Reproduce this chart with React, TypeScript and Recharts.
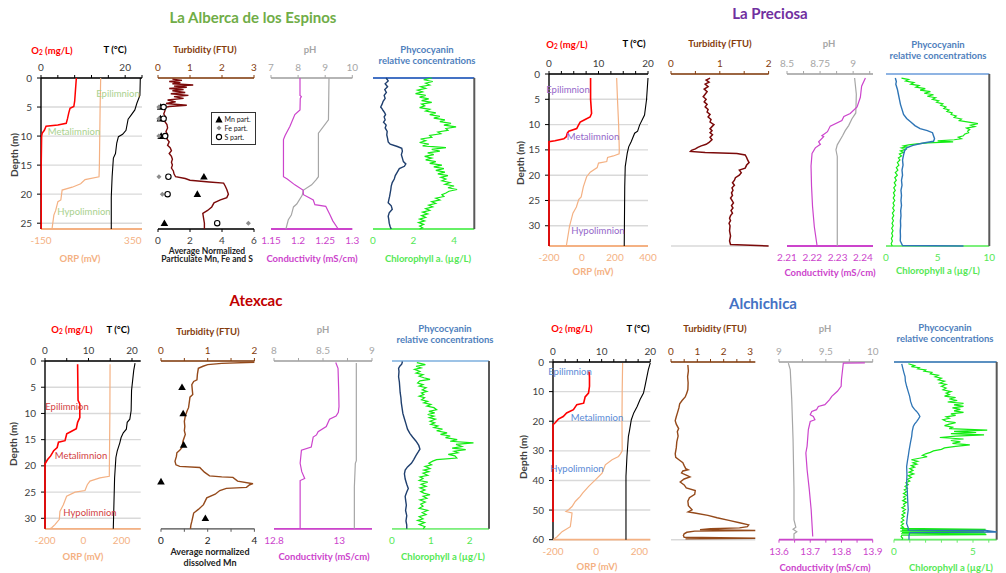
import React from 'react';
import { ScatterChart, Scatter, XAxis, YAxis, CartesianGrid, Legend } from 'recharts';

const FONT = 'Lato, "Open Sans", "DejaVu Sans", sans-serif';

type Pt = [number, number];

// ---------- La Alberca de los Espinos ----------
const albO2: Pt[] = [[0, 8.4], [2, 8.2], [4, 8.0], [4.9, 7.8], [5.2, 6.9], [6, 6.6], [7, 6.3], [7.8, 6.0], [8.1, 4.0], [8.3, 1.2], [9, 0.8], [9.5, 0.3], [10, 0.15], [15, 0.05], [26, 0.05]];
const albT: Pt[] = [[0, 23.6], [3, 23.5], [4.3, 22.8], [5.5, 22.3], [6.3, 21.5], [7.1, 20.7], [9, 20.2], [9.7, 19.4], [10.1, 18.4], [11.2, 18.0], [13, 17.7], [13.8, 17.2], [17, 16.9], [20.5, 16.7], [26, 16.7]];
const albORP: Pt[] = [[0, 175], [5, 172], [10, 170], [15, 168], [17, 166], [17.5, 90], [18.2, 66], [18.8, 20], [19.3, -35], [21, -42], [21.3, -58], [22.8, -70], [23.6, -80], [26, -90]];
const albTurb: Pt[] = [[0.2, 0.45], [0.4, 0.75], [0.6, 0.35], [0.8, 0.7], [1.0, 0.45], [1.2, 1.1], [1.4, 0.5], [1.6, 0.9], [1.8, 0.35], [2.0, 0.8], [2.2, 0.45], [2.5, 0.85], [2.7, 0.4], [3.0, 0.95], [3.2, 0.5], [3.5, 0.8], [3.8, 0.3], [4.1, 0.55], [4.4, 0.25], [4.7, 0.9], [4.9, 0.35], [5.1, 0.2], [5.6, 0.22], [6.2, 0.18], [6.8, 0.25], [7.4, 0.2], [8.0, 0.28], [8.6, 0.3], [9.2, 0.25], [9.8, 0.3], [10.5, 0.28], [11, 0.35], [11.6, 0.3], [12, 0.38], [12.5, 0.42], [13, 0.35], [13.5, 0.42], [14, 0.45], [14.5, 0.42], [15, 0.45], [15.5, 0.42], [16, 0.48], [16.5, 0.5], [17, 0.55], [17.3, 0.85], [17.6, 1.0], [17.9, 1.6], [18.1, 2.05], [18.6, 2.1], [19.2, 2.15], [20, 2.2], [20.6, 2.15], [21, 1.95], [21.5, 1.75], [22.2, 1.68], [22.8, 1.55], [23.3, 1.4], [24, 1.42], [25, 1.45], [26, 1.45]];
const albMn: Pt[] = [[5, 0.17], [7, 0.15], [10, 0.2], [17, 2.87], [20, 2.46], [25, 0.4]];
const albFe: Pt[] = [[5, 0.05], [7, 0.05], [10, 0.05], [17, 0.06], [20, 0.27], [25, 5.65]];
const albS: Pt[] = [[5, 0.35], [7, 0.35], [10, 0.45], [17, 0.65], [20, 0.6], [25, 3.7]];
const albPH: Pt[] = [[0, 9.14], [7.2, 9.12], [9.5, 8.75], [17, 8.75], [17.5, 8.67], [18.4, 8.5], [19.3, 8.2], [20.2, 8.15], [21.7, 7.95], [22.2, 7.83], [23.6, 7.75], [24.4, 7.64], [26, 7.55]];
const albCond: Pt[] = [[0, 1.2035], [3, 1.2035], [3.2, 1.206], [3.5, 1.204], [5.5, 1.2035], [6.3, 1.194], [8.3, 1.185], [9.9, 1.176], [10.6, 1.173], [17, 1.173], [17.4, 1.18], [18.4, 1.194], [19.3, 1.209], [20.1, 1.21], [21, 1.228], [21.8, 1.231], [22.1, 1.251], [23.6, 1.259], [24.6, 1.264], [26, 1.274]];
const albChl: Pt[] = [[0, 2.9], [0.3, 2.5], [0.6, 2.95], [0.9, 2.6], [1.2, 2.8], [1.5, 2.35], [1.8, 2.6], [2.1, 2.2], [2.4, 2.45], [2.7, 2.1], [3.0, 2.6], [3.3, 2.3], [3.6, 2.75], [3.9, 2.4], [4.2, 2.9], [4.5, 2.4], [4.8, 2.55], [5.1, 2.3], [5.4, 2.8], [5.7, 2.6], [6.0, 3.1], [6.3, 2.8], [6.6, 3.3], [6.9, 3.0], [7.2, 3.55], [7.5, 3.3], [7.8, 3.85], [8.1, 3.5], [8.4, 4.1], [8.7, 3.6], [9.0, 3.7], [9.3, 3.2], [9.6, 3.35], [9.9, 2.8], [10.2, 2.9], [10.5, 2.35], [10.8, 2.6], [11.1, 2.3], [11.4, 2.75], [11.7, 2.45], [12.0, 3.6], [12.3, 2.9], [12.6, 3.3], [12.9, 2.7], [13.2, 3.0], [13.5, 2.55], [13.8, 2.9], [14.1, 2.6], [14.4, 3.1], [14.7, 2.8], [15.0, 3.4], [15.3, 3.0], [15.6, 3.5], [15.9, 3.1], [16.2, 3.55], [16.5, 3.2], [16.8, 3.7], [17.1, 3.35], [17.4, 3.6], [17.7, 3.4], [18.0, 3.8], [18.3, 3.55], [18.6, 4.0], [18.9, 3.7], [19.2, 4.15], [19.5, 3.75], [19.8, 3.6], [20.1, 3.4], [20.4, 3.5], [20.7, 3.1], [21.0, 3.3], [21.3, 2.9], [21.6, 3.1], [21.9, 2.75], [22.2, 2.95], [22.5, 2.6], [22.8, 2.8], [23.1, 2.45], [23.4, 2.7], [23.7, 2.4], [24.0, 2.6], [24.3, 2.3], [24.6, 2.55], [24.9, 2.25], [25.2, 2.5], [25.5, 2.3], [25.8, 2.45], [26, 2.3]];
const albPhy: Pt[] = [[0, 0.65], [0.5, 0.75], [1, 0.6], [1.5, 0.72], [2, 0.58], [2.5, 0.66], [3, 0.55], [3.5, 0.6], [4, 0.5], [4.5, 0.45], [5, 0.38], [5.3, 0.45], [5.6, 0.5], [6, 0.58], [6.3, 0.62], [6.7, 0.55], [7.2, 0.6], [7.6, 0.52], [8.1, 0.65], [8.6, 0.6], [9.2, 0.7], [9.8, 0.68], [10.4, 0.72], [11, 0.75], [11.4, 0.85], [11.8, 1.2], [12.1, 1.42], [12.6, 1.45], [13.2, 1.4], [13.8, 1.45], [14.4, 1.5], [14.8, 1.62], [15.2, 1.55], [15.6, 1.3], [16.2, 1.2], [16.8, 1.1], [17.4, 1.05], [18, 0.95], [18.6, 0.9], [19.2, 0.88], [19.8, 0.85], [20.4, 0.82], [21, 0.78], [21.5, 0.75], [22, 0.9], [22.6, 0.95], [23.2, 0.8], [23.8, 0.75], [24.4, 0.78], [25, 0.8], [25.6, 0.85], [26, 0.9]];

// ---------- La Preciosa ----------
const preO2: Pt[] = [[0.8, 8.4], [5, 8.4], [7.8, 8.6], [8.5, 8.3], [9.0, 7.3], [9.5, 6.3], [10.2, 5.9], [10.8, 5.6], [11.3, 4.0], [11.7, 3.7], [12.4, 3.5], [12.8, 3.0], [13.2, 1.2], [13.4, 0], [34, 0]];
const preT: Pt[] = [[0.8, 20], [5.1, 19.7], [8.1, 19.3], [10.1, 18.3], [11.3, 17.9], [11.7, 17.3], [13.4, 16.6], [14.4, 16.1], [15.7, 15.8], [18.3, 15.4], [22.3, 15.3], [34, 15.2]];
const preORP: Pt[] = [[0.8, 210], [5, 215], [10, 222], [15, 226], [15.8, 225], [16.2, 190], [16.5, 155], [17.3, 150], [17.6, 100], [18.5, 92], [19.4, 50], [20.3, 28], [22.3, 8], [24.3, -5], [24.8, -20], [26.3, -34], [27.5, -55], [30, -75], [34, -95]];
const preTurb: Pt[] = [[0.8, 0.8], [1.2, 0.72], [1.6, 0.78], [2, 0.7], [2.5, 0.76], [3, 0.68], [3.5, 0.74], [4, 0.7], [4.5, 0.66], [5, 0.72], [5.5, 0.68], [6, 0.74], [6.5, 0.7], [7, 0.76], [7.5, 0.74], [8, 0.8], [8.5, 0.76], [9, 0.82], [9.5, 0.8], [10, 0.88], [10.4, 0.84], [10.8, 0.8], [11.2, 0.84], [11.6, 0.8], [12, 0.85], [12.5, 0.8], [13, 0.84], [13.5, 0.78], [13.9, 0.72], [14.2, 0.62], [14.5, 0.55], [14.8, 0.5], [15.1, 0.42], [15.3, 0.4], [15.5, 0.7], [15.7, 1.35], [16, 1.52], [16.5, 1.55], [17, 1.57], [17.5, 1.6], [18, 1.55], [18.6, 1.52], [19, 1.4], [19.5, 1.44], [20, 1.4], [20.5, 1.32], [21, 1.3], [21.5, 1.26], [22, 1.3], [22.5, 1.25], [23, 1.27], [23.5, 1.24], [24, 1.26], [24.5, 1.22], [25, 1.25], [25.5, 1.28], [26, 1.24], [26.5, 1.27], [27, 1.23], [27.5, 1.26], [28, 1.22], [28.5, 1.2], [29, 1.22], [29.5, 1.19], [30, 1.21], [31, 1.2], [32, 1.22], [33, 1.2], [33.7, 1.22], [34, 2.0]];
const prePH: Pt[] = [[0.8, 9.011], [4, 9.024], [7.7, 9.02], [8.9, 8.99], [10.2, 8.966], [11.2, 8.94], [12.2, 8.92], [14, 8.88], [15, 8.87], [16.3, 8.88], [34, 8.88]];
const preCond: Pt[] = [[0.8, 2.241], [2.4, 2.2395], [4.6, 2.239], [6.5, 2.2377], [7.8, 2.235], [8.4, 2.2325], [9.2, 2.2317], [10.3, 2.2271], [11.4, 2.226], [12.2, 2.2238], [12.4, 2.2245], [13.4, 2.2225], [13.9, 2.2232], [14.6, 2.2212], [15.7, 2.2199], [18.2, 2.2195], [22.2, 2.2197], [26.2, 2.2201], [30.2, 2.2208], [34, 2.2219]];
const preChl: Pt[] = [[0.8, 1.5], [1.1, 2.2], [1.4, 1.9], [1.7, 2.7], [2.0, 2.4], [2.3, 3.2], [2.6, 2.9], [2.9, 3.8], [3.2, 3.3], [3.5, 4.3], [3.8, 3.7], [4.1, 4.6], [4.4, 4.0], [4.7, 4.8], [5.0, 4.5], [5.3, 5.1], [5.6, 4.9], [5.9, 5.5], [6.2, 5.3], [6.5, 5.8], [6.8, 5.6], [7.1, 6.1], [7.4, 5.9], [7.7, 6.4], [8.0, 6.3], [8.3, 6.8], [8.6, 6.6], [8.9, 7.3], [9.2, 7.1], [9.5, 8.0], [9.8, 8.9], [10.1, 8.2], [10.4, 8.6], [10.7, 7.8], [11.0, 8.1], [11.3, 7.9], [11.6, 8.0], [11.9, 7.6], [12.2, 7.5], [12.5, 7.0], [12.8, 7.3], [13.0, 6.6], [13.2, 5.0], [13.4, 6.5], [13.6, 4.0], [13.8, 3.0], [14.0, 2.2], [14.2, 1.7], [14.4, 2.0], [14.6, 1.5], [14.9, 1.9], [15.2, 1.4], [15.5, 1.7], [15.8, 1.3], [16.2, 1.5], [16.6, 1.2], [17.0, 1.35], [17.5, 1.1], [18, 1.25], [18.5, 1.0], [19, 1.15], [19.5, 0.9], [20, 1.1], [20.5, 0.85], [21, 1.0], [21.5, 0.8], [22, 0.95], [22.5, 0.75], [23, 0.9], [23.5, 0.72], [24, 0.85], [24.5, 0.7], [25, 0.85], [25.5, 0.68], [26, 0.8], [26.5, 0.65], [27, 0.8], [27.5, 0.62], [28, 0.75], [28.5, 0.6], [29, 0.72], [29.5, 0.58], [30, 0.7], [30.5, 0.55], [31, 0.68], [31.5, 0.55], [32, 0.65], [32.5, 0.52], [33, 0.62], [33.5, 0.5], [34, 0.6]];
const prePhy: Pt[] = [[0.8, 0.9], [1.5, 1.0], [2, 0.95], [3, 1.1], [4, 1.2], [5, 1.3], [6, 1.4], [7, 1.55], [8, 1.7], [8.8, 2.0], [9.5, 2.4], [10.2, 2.8], [10.8, 3.3], [11.2, 4.0], [11.6, 4.5], [12.2, 4.6], [12.8, 4.7], [13.3, 4.6], [13.7, 3.5], [14.1, 2.6], [14.6, 2.0], [15.2, 1.8], [16, 1.7], [17, 1.6], [18, 1.65], [19, 1.55], [20, 1.6], [21, 1.5], [22, 1.55], [23, 1.45], [24, 1.5], [25, 1.45], [26, 1.5], [27, 1.42], [28, 1.45], [29, 1.4], [30, 1.42], [31, 1.38], [32, 1.4], [33, 1.38], [33.9, 1.6], [34, 7.5]];

// ---------- Atexcac ----------
const atxO2: Pt[] = [[0.6, 7.5], [7.5, 7.6], [8.2, 8.0], [10.8, 8.0], [11.7, 7.5], [12.9, 7.2], [13.5, 5.9], [13.9, 5.0], [15.2, 4.6], [15.5, 3.1], [16.5, 2.8], [17.1, 2.0], [18.1, 1.3], [18.8, 0.6], [19.6, 0], [32, 0]];
const atxT: Pt[] = [[0.4, 20.7], [1.8, 20.4], [5.6, 19.9], [9.5, 19.8], [11.1, 19.5], [11.7, 18.9], [13, 18.7], [13.7, 18.0], [14.6, 17.5], [15.6, 17.2], [17.2, 16.6], [18.4, 16.3], [22.3, 16.0], [32, 15.7]];
const atxORP: Pt[] = [[0.6, 140], [10, 139], [22, 136], [22.3, 87], [22.9, 35], [23.6, 21], [24.7, 9], [25, -43], [25.8, -87], [27.4, -104], [28.7, -122], [30.2, -125], [31.2, -148], [31.8, -165], [32, -175]];
const atxTurb: Pt[] = [[0.25, 2.0], [0.45, 1.3], [0.7, 1.0], [1.0, 0.9], [1.4, 0.8], [2.5, 0.78], [3.6, 0.77], [3.9, 0.7], [4.5, 0.66], [5.5, 0.67], [6.4, 0.68], [6.9, 0.62], [7.6, 0.61], [8.9, 0.59], [9.5, 0.56], [10.5, 0.52], [11.5, 0.5], [12.5, 0.51], [13.3, 0.5], [14, 0.52], [15.3, 0.47], [16.5, 0.45], [17, 0.4], [17.5, 0.34], [18.2, 0.33], [19.1, 0.3], [19.8, 0.32], [20.1, 0.4], [20.3, 0.83], [21.2, 0.93], [21.9, 1.04], [22.1, 1.3], [22.2, 1.54], [22.9, 1.64], [23.4, 1.97], [23.6, 1.9], [24.1, 1.83], [24.3, 1.4], [24.7, 1.26], [25.4, 1.16], [26.1, 0.98], [27.4, 0.91], [28.3, 0.8], [29, 0.7], [30.6, 0.66], [31.3, 0.64], [32, 0.63]];
const atxMn: Pt[] = [[5, 0.9], [10, 0.95], [16, 0.97], [23, 0.0], [30, 1.9]];
const atxPH: Pt[] = [[0.4, 8.84], [10, 8.84], [19, 8.84], [19.5, 8.83], [24, 8.82], [32, 8.82]];
const atxCond: Pt[] = [[0.3, 12.989], [1.4, 12.996], [5.5, 12.998], [8.7, 12.999], [9.8, 12.997], [10.5, 12.99], [11.1, 12.97], [12.5, 12.96], [13.5, 12.935], [14.1, 12.93], [14.5, 12.92], [16.4, 12.914], [17, 12.884], [19.5, 12.88], [21.1, 12.885], [22.4, 12.894], [22.8, 12.88], [32, 12.88]];
const atxChl: Pt[] = [[0.3, 0.64], [0.7, 0.86], [1.0, 0.62], [1.3, 0.75], [1.6, 0.58], [2.0, 0.72], [2.3, 0.62], [2.6, 0.8], [2.9, 0.7], [3.2, 0.82], [3.5, 0.98], [3.8, 0.72], [4.2, 0.66], [4.5, 0.8], [4.8, 0.7], [5.1, 0.88], [5.5, 0.78], [5.8, 0.9], [6.1, 0.76], [6.4, 0.82], [6.7, 0.7], [7.0, 0.84], [7.4, 0.76], [7.7, 0.92], [8.0, 0.82], [8.3, 1.0], [8.6, 0.9], [8.9, 1.08], [9.3, 1.15], [9.6, 0.95], [9.9, 1.1], [10.2, 0.92], [10.5, 1.08], [10.8, 0.96], [11.1, 1.12], [11.5, 0.98], [11.8, 1.1], [12.1, 1.0], [12.4, 1.18], [12.7, 1.08], [13.0, 1.3], [13.3, 1.15], [13.7, 1.42], [14.0, 1.25], [14.3, 1.5], [14.6, 1.38], [15.0, 1.68], [15.3, 1.5], [15.6, 2.1], [15.9, 1.65], [16.3, 1.8], [16.6, 1.55], [16.9, 1.9], [17.2, 1.6], [17.5, 1.7], [17.8, 1.45], [18.1, 1.62], [18.5, 1.67], [18.8, 1.15], [19.1, 1.05], [19.5, 0.95], [19.8, 1.02], [20.1, 0.85], [20.5, 0.98], [20.8, 0.82], [21.1, 0.95], [21.4, 0.8], [21.8, 0.92], [22.1, 0.72], [22.4, 0.8], [22.8, 0.7], [23.1, 0.92], [23.5, 0.75], [23.9, 0.88], [24.2, 0.72], [24.6, 0.85], [24.9, 0.74], [25.2, 0.82], [25.5, 0.98], [25.8, 0.8], [26.2, 0.9], [26.5, 0.72], [26.9, 0.86], [27.3, 0.74], [27.7, 0.8], [28.1, 0.7], [28.5, 0.92], [28.9, 0.78], [29.3, 0.88], [29.7, 0.7], [30.1, 0.8], [30.4, 0.66], [30.8, 0.84], [31.2, 0.7], [31.6, 0.85], [32, 0.8]];
const atxPhy: Pt[] = [[0.1, 0.27], [0.6, 0.25], [1.0, 0.2], [1.4, 0.17], [2, 0.18], [3, 0.17], [4, 0.19], [5, 0.2], [6, 0.21], [7, 0.23], [8, 0.24], [9, 0.26], [10, 0.28], [11, 0.32], [12, 0.36], [13, 0.4], [13.8, 0.46], [14.5, 0.53], [15.3, 0.62], [16.1, 0.69], [16.8, 0.72], [17.3, 0.68], [18, 0.62], [18.8, 0.56], [19.5, 0.5], [20.2, 0.4], [20.8, 0.34], [21.5, 0.32], [22.5, 0.34], [23.5, 0.38], [24.3, 0.42], [25, 0.38], [25.8, 0.34], [26.5, 0.35], [27.5, 0.37], [28.5, 0.35], [29.5, 0.38], [30.5, 0.36], [31.3, 0.38], [32, 0.38]];

// ---------- Alchichica ----------
const alcO2: Pt[] = [[3.2, 7.4], [5, 7.5], [8.2, 7.5], [10.5, 7.3], [11.8, 6.6], [13.9, 6.3], [14.4, 4.9], [16.1, 4.2], [17.2, 2.8], [18.4, 2.1], [19.3, 1.1], [20.6, 0.4], [21.2, 0], [54, 0]];
const alcT: Pt[] = [[0.3, 20], [2.6, 19.6], [8.2, 18.9], [10.5, 18.6], [12.7, 17.9], [15, 17.3], [17.2, 16.6], [19.5, 16.1], [23.4, 15.7], [25.1, 15.5], [31.9, 15.2], [38.6, 15.0], [60, 15.0]];
const alcORP: Pt[] = [[0.3, 122], [10, 120], [20, 119], [30, 120], [31, 112], [31.9, 103], [33, 73], [34.7, 42], [37.5, 27], [39.8, -4], [42, -35], [44.3, -63], [45.4, -74], [47.1, -97], [48.8, -112], [49.9, -128], [50.5, -140], [51, -112], [53, -115], [55.6, -120], [57.3, -158], [59, -181], [60, -200]];
const alcTurb: Pt[] = [[1, 0.64], [3, 0.66], [5, 0.63], [7, 0.65], [9.3, 0.64], [10.5, 0.6], [11.8, 0.54], [13, 0.42], [14.1, 0.33], [15.5, 0.3], [17, 0.25], [18.5, 0.2], [19.8, 0.16], [21, 0.2], [22.5, 0.29], [23.5, 0.24], [25, 0.27], [27, 0.22], [29, 0.2], [31, 0.16], [32.2, 0.18], [33, 0.3], [34, 0.45], [35, 0.5], [36, 0.56], [36.4, 0.65], [36.8, 0.45], [37.5, 0.4], [38.3, 0.6], [38.8, 0.72], [39.5, 0.5], [40.5, 0.35], [41.5, 0.5], [42.5, 0.58], [43.4, 0.92], [44.7, 0.9], [45.8, 0.7], [47, 0.64], [48.5, 0.66], [49.9, 0.8], [50.6, 0.65], [51, 0.9], [51.8, 1.4], [52.6, 1.75], [53.5, 2.2], [54.3, 2.6], [55, 2.95], [55.6, 2.9], [56, 2.6], [56.3, 1.5], [56.6, 1.1], [56.9, 3.2], [57.1, 0.9], [57.5, 0.6], [58, 0.5], [58.6, 0.47], [59.2, 0.5], [59.5, 3.2], [59.7, 0.55]];
const alcPH: Pt[] = [[0.4, 9.1], [2.6, 9.12], [12.7, 9.136], [26.2, 9.15], [43.1, 9.16], [53.3, 9.16], [55.8, 9.18], [56.5, 9.15], [57.3, 9.19], [58, 9.16], [60, 9.16]];
const alcCond: Pt[] = [[0.3, 13.875], [0.35, 13.806], [5.9, 13.8], [8.2, 13.799], [9.9, 13.787], [11.6, 13.769], [12.7, 13.762], [14.4, 13.747], [15, 13.726], [16.1, 13.72], [16.7, 13.705], [17.8, 13.7], [18.4, 13.71], [19.5, 13.715], [20.1, 13.7], [22.8, 13.694], [28.4, 13.69], [30.7, 13.686], [36.4, 13.69], [43.1, 13.697], [49.9, 13.703], [58.9, 13.708]];
const alcChl: Pt[] = [[0.6, 0.91], [1.2, 1.3], [1.6, 1.1], [1.9, 1.6], [2.3, 1.5], [2.7, 2.0], [3.1, 1.9], [3.5, 2.4], [4.0, 2.3], [4.5, 2.8], [5, 2.6], [5.5, 3.0], [6, 2.8], [6.5, 3.2], [7.1, 2.9], [7.6, 3.3], [8.2, 3.0], [8.8, 3.3], [9.4, 3.1], [10, 3.6], [10.5, 3.3], [11, 3.5], [11.5, 3.2], [12, 3.9], [12.5, 3.5], [13, 4.0], [13.5, 3.4], [14, 4.4], [14.5, 3.8], [15, 4.4], [15.5, 3.7], [16, 4.2], [16.5, 3.8], [17, 4.4], [17.5, 3.6], [18, 3.9], [18.5, 3.3], [19, 3.5], [19.5, 3.1], [20, 3.3], [20.5, 3.9], [21, 3.5], [21.5, 3.2], [22, 3.7], [22.5, 3.5], [23, 5.9], [23.4, 3.8], [23.8, 5.2], [24.2, 3.6], [24.6, 5.7], [25, 3.9], [25.5, 2.9], [26, 4.4], [26.5, 3.6], [27, 4.2], [27.5, 3.7], [28, 4.8], [28.5, 3.9], [29, 3.2], [29.5, 3.0], [30, 2.5], [30.5, 2.3], [31, 2.0], [31.5, 1.8], [32, 2.1], [32.5, 1.6], [33, 1.1], [33.5, 1.5], [34, 1.2], [34.5, 1.45], [35, 1.1], [35.5, 1.3], [36, 1.0], [36.6, 1.2], [37.2, 0.95], [37.8, 1.25], [38.4, 0.9], [39, 1.1], [39.6, 0.85], [40.2, 1.0], [40.8, 0.75], [41.4, 0.9], [42, 0.7], [42.6, 0.85], [43.2, 0.65], [43.8, 0.8], [44.4, 0.6], [45, 0.8], [45.6, 0.6], [46.2, 0.75], [46.8, 0.55], [47.4, 0.8], [48, 0.6], [48.6, 0.7], [49.2, 0.5], [49.8, 0.72], [50.4, 0.55], [51, 0.7], [51.6, 0.5], [52.2, 0.65], [52.8, 0.48], [53.4, 0.62], [54, 0.45], [54.6, 0.6], [55.2, 0.45], [55.8, 0.6], [56.2, 0.4], [56.5, 5.8], [56.7, 0.5], [56.9, 5.9], [57.1, 0.4], [57.3, 5.7], [57.5, 0.5], [57.8, 5.8], [58.0, 0.45], [58.3, 5.85], [58.5, 0.5], [59, 0.45], [59.5, 0.55], [60, 0.5]];
const alcPhy: Pt[] = [[0.6, 0.49], [2, 0.55], [3.5, 0.62], [4.9, 0.7], [6.5, 0.72], [8.2, 0.8], [10, 0.9], [11.6, 0.99], [13.3, 1.05], [15, 1.16], [16, 1.3], [16.7, 1.43], [17.5, 1.55], [18.4, 1.64], [19.2, 1.55], [20.1, 1.43], [21, 1.3], [21.8, 1.22], [23.5, 1.15], [25.1, 1.12], [27, 1.05], [28.5, 1.0], [30, 0.95], [31.9, 0.9], [33.5, 0.85], [35.3, 0.8], [38, 0.82], [41, 0.8], [43.2, 0.84], [46, 0.86], [49.9, 0.9], [52, 0.85], [54.5, 0.8], [56, 0.9], [56.8, 0.9], [56.9, 5.8], [57.4, 6.5], [57.6, 1.0], [58.5, 0.95], [60, 0.95]];

// ---------- depth ticks ----------
const dt26 = [0, 5, 10, 15, 20, 25];
const dt34 = [0, 5, 10, 15, 20, 25, 30];
const dt60 = [0, 10, 20, 30, 40, 50, 60];

// ---------- colours ----------
const C = {
  o2: '#FF0000', temp: '#000000', orp: '#F4B183', orpText: '#F4B183',
  turbDark: '#7B0A0A', turbBrown: '#94491A', turbText: '#843C0C',
  ph: '#A6A6A6', cond: '#CC44CC', chl: '#14EC14', chlText: '#55E855',
  phyNavy: '#1F3F6E', phyBlue: '#2E75B6', grid: '#D9D9D9', axisText: '#404040',
};

type Axis = { domain: [number, number]; ticks: number[]; labels: number[]; color: string; tickColor?: string; line?: boolean; tickLine?: boolean; width?: number };
type Series = { data: Pt[]; axis: 't' | 'b'; color: string; width?: number; marker?: 'tri' | 'fe' | 'circ'; name?: string };
type Sub = { x0: number; x1: number; y0: number; y1: number; dmax: number; dticks: number[]; top: Axis; bottom: Axis; left?: boolean; right?: boolean; series: Series[]; legend?: [number, number] };

const hiddenAx = (domain: [number, number]): Axis => ({ domain, ticks: [], labels: [], color: '#fff', line: false, tickLine: false });

const SUBS: Sub[] = [
  // La Alberca
  { x0: 40.7, x1: 141.7, y0: 78, y1: 229, dmax: 26, dticks: dt26, left: true,
    top: { domain: [0, 24], ticks: [0, 4, 8, 12, 16, 20, 24], labels: [0, 20], color: '#000', tickColor: C.axisText },
    bottom: { domain: [-150, 400], ticks: [-150, 350], labels: [-150, 350], color: C.orp, tickColor: C.orpText, tickLine: false, width: 1.8 },
    series: [{ data: albORP, axis: 'b', color: C.orp }, { data: albT, axis: 't', color: C.temp, width: 1.1 }, { data: albO2, axis: 't', color: C.o2, width: 1.5 }] },
  { x0: 158, x1: 254, y0: 78, y1: 229, dmax: 26, dticks: dt26,
    top: { domain: [0, 3], ticks: [0, 1, 2, 3], labels: [0, 1, 2, 3], color: C.turbText },
    bottom: { domain: [0, 6], ticks: [0, 2, 4, 6], labels: [0, 2, 4, 6], color: '#000', tickColor: C.axisText },
    series: [{ data: albTurb, axis: 't', color: C.turbDark, width: 1.4 },
      { data: albMn, axis: 'b', color: '#000', marker: 'tri', name: 'Mn part.' },
      { data: albFe, axis: 'b', color: '#888', marker: 'fe', name: 'Fe part.' },
      { data: albS, axis: 'b', color: '#000', marker: 'circ', name: 'S part.' }],
    legend: [210.5, 111.5] },
  { x0: 271, x1: 352.3, y0: 78, y1: 229, dmax: 26, dticks: dt26,
    top: { domain: [7, 10], ticks: [7, 8, 9, 10], labels: [7, 8, 9, 10], color: C.ph },
    bottom: { domain: [1.15, 1.3], ticks: [1.15, 1.2, 1.25, 1.3], labels: [1.15, 1.2, 1.25, 1.3], color: C.cond, tickLine: false, width: 1.8 },
    series: [{ data: albPH, axis: 't', color: C.ph }, { data: albCond, axis: 'b', color: C.cond }] },
  { x0: 372.7, x1: 474, y0: 78, y1: 229, dmax: 26, dticks: dt26, right: true,
    top: { domain: [0, 5], ticks: [], labels: [], color: '#4472C4', tickLine: false, width: 1.8 },
    bottom: { domain: [0, 5], ticks: [0, 2, 4], labels: [0, 2, 4], color: '#66F066', tickColor: C.chlText, tickLine: false, width: 1.8 },
    series: [{ data: albChl, axis: 'b', color: C.chl }, { data: albPhy, axis: 't', color: C.phyNavy, width: 1.4 }] },

  // La Preciosa
  { x0: 549.3, x1: 648.3, y0: 74, y1: 246, dmax: 34, dticks: dt34, left: true,
    top: { domain: [0, 20], ticks: [0, 2.5, 5, 7.5, 10, 12.5, 15, 17.5, 20], labels: [0, 10, 20], color: '#000', tickColor: C.axisText },
    bottom: { domain: [-200, 400], ticks: [-200, 0, 200, 400], labels: [-200, 0, 200, 400], color: C.orp, tickColor: C.orpText, tickLine: false, width: 1.8 },
    series: [{ data: preORP, axis: 'b', color: C.orp }, { data: preT, axis: 't', color: C.temp, width: 1.1 }, { data: preO2, axis: 't', color: C.o2, width: 1.6 }] },
  { x0: 670.7, x1: 768.3, y0: 74, y1: 246, dmax: 34, dticks: dt34,
    top: { domain: [0, 2], ticks: [0, 0.5, 1, 1.5, 2], labels: [0, 1, 2], color: C.turbText },
    bottom: hiddenAx([0, 2]),
    series: [{ data: preTurb, axis: 't', color: C.turbDark, width: 1.5 }] },
  { x0: 786.7, x1: 872.7, y0: 74, y1: 246, dmax: 34, dticks: dt34,
    top: { domain: [8.5, 9.15], ticks: [8.5, 8.625, 8.75, 8.875, 9, 9.125], labels: [8.5, 8.75, 9], color: C.ph },
    bottom: { domain: [2.21, 2.244], ticks: [2.21, 2.22, 2.23, 2.24], labels: [2.21, 2.22, 2.23, 2.24], color: C.cond, tickLine: false, width: 1.8 },
    series: [{ data: prePH, axis: 't', color: C.ph }, { data: preCond, axis: 'b', color: C.cond }] },
  { x0: 886, x1: 989.3, y0: 74, y1: 246, dmax: 34, dticks: dt34, right: true,
    top: { domain: [0, 10], ticks: [], labels: [], color: '#8FB4E3', tickLine: false, width: 2 },
    bottom: { domain: [0, 10], ticks: [0, 5, 10], labels: [0, 5, 10], color: '#7CF07C', tickColor: C.chlText, tickLine: false, width: 1.8 },
    series: [{ data: preChl, axis: 'b', color: C.chl }, { data: prePhy, axis: 't', color: C.phyBlue, width: 1.4 }] },

  // Atexcac
  { x0: 45, x1: 140.7, y0: 360.7, y1: 528.5, dmax: 32, dticks: dt34, left: true,
    top: { domain: [0, 22], ticks: [0, 5, 10, 15, 20], labels: [0, 10, 20], color: '#000', tickColor: C.axisText },
    bottom: { domain: [-200, 300], ticks: [-200, 0, 200], labels: [-200, 0, 200], color: C.orp, tickColor: C.orpText, tickLine: false, width: 1.8 },
    series: [{ data: atxORP, axis: 'b', color: C.orp }, { data: atxT, axis: 't', color: C.temp, width: 1.1 }, { data: atxO2, axis: 't', color: C.o2, width: 1.6 }] },
  { x0: 161.3, x1: 254.7, y0: 360.7, y1: 528.5, dmax: 32, dticks: dt34,
    top: { domain: [0, 2], ticks: [0, 0.5, 1, 1.5, 2], labels: [0, 1, 2], color: C.turbText },
    bottom: { domain: [0, 4], ticks: [0, 1, 2, 3, 4], labels: [0, 2, 4], color: '#595959', tickColor: '#222' },
    series: [{ data: atxTurb, axis: 't', color: C.turbBrown, width: 1.4 }, { data: atxMn, axis: 'b', color: '#000', marker: 'tri', name: 'Mn' }] },
  { x0: 274.3, x1: 372.3, y0: 360.7, y1: 528.5, dmax: 32, dticks: dt34,
    top: { domain: [8, 9], ticks: [8, 8.25, 8.5, 8.75, 9], labels: [8, 8.5, 9], color: C.ph },
    bottom: { domain: [12.8, 13.1], ticks: [12.8, 13], labels: [12.8, 13], color: C.cond, tickLine: false, width: 1.8 },
    series: [{ data: atxPH, axis: 't', color: C.ph }, { data: atxCond, axis: 'b', color: C.cond }] },
  { x0: 391.7, x1: 488.7, y0: 360.7, y1: 528.5, dmax: 32, dticks: dt34, right: true,
    top: { domain: [0, 2.5], ticks: [], labels: [], color: '#9DC3E6', tickLine: false, width: 2.2 },
    bottom: { domain: [0, 2.5], ticks: [0, 1, 2], labels: [0, 1, 2], color: '#7CF07C', tickColor: C.chlText, tickLine: false, width: 1.8 },
    series: [{ data: atxChl, axis: 'b', color: C.chl }, { data: atxPhy, axis: 't', color: C.phyNavy, width: 1.4 }] },

  // Alchichica
  { x0: 552.7, x1: 650, y0: 362.3, y1: 540, dmax: 60, dticks: dt60, left: true,
    top: { domain: [0, 20], ticks: [0, 2.5, 5, 7.5, 10, 12.5, 15, 17.5, 20], labels: [0, 10, 20], color: '#000', tickColor: C.axisText },
    bottom: { domain: [-200, 250], ticks: [-200, 0, 200], labels: [-200, 0, 200], color: C.orp, tickColor: C.orpText, tickLine: false, width: 1.8 },
    series: [{ data: alcORP, axis: 'b', color: C.orp }, { data: alcT, axis: 't', color: C.temp, width: 1.1 }, { data: alcO2, axis: 't', color: C.o2, width: 1.6 }] },
  { x0: 670.7, x1: 755, y0: 362.3, y1: 540, dmax: 60, dticks: dt60,
    top: { domain: [0, 3.2], ticks: [0, 0.5, 1, 1.5, 2, 2.5, 3], labels: [0, 1, 2, 3], color: C.turbText },
    bottom: hiddenAx([0, 3.2]),
    series: [{ data: alcTurb, axis: 't', color: C.turbBrown, width: 1.4 }] },
  { x0: 779, x1: 872.7, y0: 362.3, y1: 540, dmax: 60, dticks: dt60,
    top: { domain: [9, 10], ticks: [9, 9.25, 9.5, 9.75, 10], labels: [9, 9.5, 10], color: C.ph },
    bottom: { domain: [13.6, 13.9], ticks: [13.6, 13.65, 13.7, 13.75, 13.8, 13.85, 13.9], labels: [13.6, 13.7, 13.8, 13.9], color: C.cond, width: 1.8 },
    series: [{ data: alcPH, axis: 't', color: C.ph }, { data: alcCond, axis: 'b', color: C.cond }] },
  { x0: 894, x1: 996.7, y0: 362.3, y1: 540, dmax: 60, dticks: dt60, right: true,
    top: { domain: [0, 6.5], ticks: [], labels: [], color: '#2E75B6', tickLine: false, width: 1.5 },
    bottom: { domain: [0, 6.5], ticks: [0, 1, 2, 3, 4, 5, 6], labels: [0, 5], color: '#66F066', tickColor: C.chlText, width: 1.8 },
    series: [{ data: alcChl, axis: 'b', color: C.chl }, { data: alcPhy, axis: 't', color: C.phyBlue, width: 1.3 }] },
];

const PL = 34, PR = 34, PT = 26, PB = 26;

const fmt = (labels: number[]) => (v: number) => {
  const l = labels.find((x) => Math.abs(x - v) < 1e-9);
  return l === undefined ? '' : String(l);
};

const toPts = (a: Pt[]) => a.map(([d, v]) => ({ d, v }));

const noShape = () => <g />;

const triShape = (p: any) => (
  <polygon points={`${p.cx},${p.cy - 3.8} ${p.cx + 3.8},${p.cy + 2.8} ${p.cx - 3.8},${p.cy + 2.8}`} fill="#000" />
);
const feShape = (p: any) => (
  <polygon points={`${p.cx},${p.cy - 2.5} ${p.cx + 2.5},${p.cy} ${p.cx},${p.cy + 2.5} ${p.cx - 2.5},${p.cy}`} fill="#8c8c8c" />
);
const circShape = (p: any) => <circle cx={p.cx} cy={p.cy} r={2.7} fill="#fff" stroke="#000" strokeWidth={1.1} />;

const glyph = (name: string) => {
  if (name.startsWith('Mn')) return <polygon points="4,0.8 7.6,7.4 0.4,7.4" fill="#000" />;
  if (name.startsWith('Fe')) return <polygon points="4,1.5 6.5,4 4,6.5 1.5,4" fill="#8c8c8c" />;
  return <circle cx={4} cy={4} r={2.6} fill="#fff" stroke="#000" strokeWidth={1.1} />;
};

const LEGEND_ORDER = ['Mn part.', 'Fe part.', 'S part.'];

const renderLegend = (props: any) => {
  const items = (props.payload || [])
    .filter((p: any) => p.type && p.type !== 'none')
    .slice()
    .sort((a: any, b: any) => LEGEND_ORDER.indexOf(String(a.value)) - LEGEND_ORDER.indexOf(String(b.value)));
  return (
    <div style={{ border: '1px solid #333', background: '#fff', padding: '2px 4px 2px 3px', fontSize: 7, lineHeight: '9px', color: '#222', whiteSpace: 'nowrap', fontFamily: FONT }}>
      {items.map((it: any) => (
        <div key={it.value} style={{ display: 'flex', alignItems: 'center' }}>
          <svg width={8} height={8} style={{ marginRight: 2 }}>{glyph(String(it.value))}</svg>
          <span>{it.value}</span>
        </div>
      ))}
    </div>
  );
};

function xAxisEl(id: 't' | 'b', a: Axis) {
  const none = a.ticks.length === 0;
  return (
    <XAxis
      key={id}
      xAxisId={id}
      orientation={id === 't' ? 'top' : 'bottom'}
      type="number"
      dataKey="v"
      domain={a.domain}
      ticks={none ? undefined : a.ticks}
      interval={0}
      height={id === 't' ? PT : PB}
      axisLine={a.line === false ? false : { stroke: a.color, strokeWidth: a.width ?? 1.3 }}
      tickLine={a.tickLine === false || none ? false : { stroke: a.color, strokeWidth: 1 }}
      tickSize={3}
      tickMargin={id === 't' ? 4 : 5}
      tick={none ? false : { fontSize: 10, fill: a.tickColor ?? a.color }}
      tickFormatter={fmt(a.labels)}
    />
  );
}

function SubPlot({ s }: { s: Sub }) {
  const w = s.x1 - s.x0 + PL + PR;
  const h = s.y1 - s.y0 + PT + PB;
  return (
    <div style={{ position: 'absolute', left: s.x0 - PL, top: s.y0 - PT, width: w, height: h }}>
      <ScatterChart width={w} height={h} margin={{ top: 0, right: 0, bottom: 0, left: 0 }}>
        <CartesianGrid xAxisId="t" yAxisId="l" vertical={false} stroke={C.grid} strokeWidth={1.4} />
        {xAxisEl('t', s.top)}
        {xAxisEl('b', s.bottom)}
        <YAxis
          yAxisId="l"
          orientation="left"
          type="number"
          dataKey="d"
          domain={[0, s.dmax]}
          reversed
          ticks={s.dticks}
          interval={0}
          width={PL}
          axisLine={s.left ? { stroke: '#000', strokeWidth: 1.4 } : false}
          tickLine={s.left ? { stroke: '#000' } : false}
          tickSize={4}
          tickMargin={5}
          tick={s.left ? { fontSize: 10, fill: C.axisText } : false}
        />
        <YAxis
          yAxisId="r"
          orientation="right"
          type="number"
          dataKey="d"
          domain={[0, s.dmax]}
          reversed
          ticks={s.dticks}
          interval={0}
          width={PR}
          axisLine={s.right ? { stroke: '#595959', strokeWidth: 2 } : false}
          tickLine={s.right ? { stroke: '#595959' } : false}
          tickSize={4}
          tickMargin={2}
          tick={s.right ? { fontSize: 10, fill: C.axisText } : false}
        />
        {s.series.map((se, i) =>
          se.marker ? (
            <Scatter
              key={i}
              name={se.name}
              data={toPts(se.data)}
              xAxisId={se.axis}
              yAxisId="l"
              fill={se.color}
              shape={se.marker === 'tri' ? triShape : se.marker === 'fe' ? feShape : circShape}
              legendType={se.marker === 'tri' ? 'triangle' : se.marker === 'fe' ? 'diamond' : 'circle'}
              isAnimationActive={false}
            />
          ) : (
            <Scatter
              key={i}
              data={toPts(se.data)}
              xAxisId={se.axis}
              yAxisId="l"
              fill={se.color}
              line={{ stroke: se.color, strokeWidth: se.width ?? 1.2 }}
              shape={noShape}
              legendType="none"
              isAnimationActive={false}
            />
          )
        )}
        {s.legend ? (
          <Legend
            layout="vertical"
            align="center"
            verticalAlign="middle"
            wrapperStyle={{ left: s.legend[0] - (s.x0 - PL), top: s.legend[1] - (s.y0 - PT), width: 'auto', height: 'auto' }}
            content={renderLegend}
          />
        ) : null}
      </ScatterChart>
    </div>
  );
}

type Lbl = { x: number; y: number; t: React.ReactNode; c: string; s?: number; w?: number; rot?: boolean };

const O2 = (
  <>
    <tspan>O</tspan>
    <tspan fontSize={6.5} dy={2}>2</tspan>
    <tspan dy={-2}> (mg/L)</tspan>
  </>
);

const LAYER1 = '#A9D18E', LAYER2 = '#9467C9', LAYER3 = '#D23F3F', LAYER4 = '#5A8AD6';
const PHY1 = '#4F81BD';

const LABELS: Lbl[] = [
  // La Alberca
  { x: 253, y: 17, t: 'La Alberca de los Espinos', c: '#70AD47', s: 15 },
  { x: 52, y: 49.5, t: O2, c: C.o2 },
  { x: 115, y: 49.5, t: 'T (°C)', c: '#000' },
  { x: 205, y: 49.5, t: 'Turbidity (FTU)', c: C.turbText },
  { x: 310, y: 49.5, t: 'pH', c: C.ph },
  { x: 427, y: 49.5, t: 'Phycocyanin', c: PHY1 },
  { x: 427, y: 60.5, t: 'relative concentrations', c: PHY1 },
  { x: 14, y: 155, t: 'Depth (m)', c: '#404040', s: 10, rot: true },
  { x: 80, y: 258, t: 'ORP (mV)', c: C.orpText },
  { x: 207, y: 250.5, t: 'Average Normalized', c: '#222', s: 8.5 },
  { x: 207, y: 259, t: 'Particulate Mn, Fe and S', c: '#222', s: 8.5 },
  { x: 312, y: 258, t: 'Conductivity  (mS/cm)', c: C.cond },
  { x: 428, y: 258, t: 'Chlorophyll  a. (µg/L)', c: C.chlText },
  { x: 118, y: 93, t: 'Epilimnion', c: LAYER1, w: 400 },
  { x: 74, y: 131, t: 'Metalimnion', c: LAYER1, w: 400 },
  { x: 84, y: 211, t: 'Hypolimnion', c: LAYER1, w: 400 },

  // La Preciosa
  { x: 770, y: 13, t: 'La Preciosa', c: '#7030A0', s: 15 },
  { x: 567, y: 43.5, t: O2, c: C.o2 },
  { x: 634, y: 43.5, t: 'T (°C)', c: '#000' },
  { x: 720, y: 43.5, t: 'Turbidity (FTU)', c: C.turbText },
  { x: 829, y: 43, t: 'pH', c: C.ph },
  { x: 938, y: 44, t: 'Phycocyanin', c: PHY1 },
  { x: 938, y: 55, t: 'relative concentrations', c: PHY1 },
  { x: 520, y: 163, t: 'Depth  (m)', c: '#404040', s: 10, rot: true },
  { x: 593, y: 271, t: 'ORP (mV)', c: C.orpText },
  { x: 830, y: 272, t: 'Conductivity  (mS/cm)', c: C.cond },
  { x: 938, y: 270, t: 'Chlorophyll a (µg/L)', c: C.chlText },
  { x: 568, y: 89, t: 'Epilimnion', c: LAYER2, w: 400 },
  { x: 593, y: 136, t: 'Metalimnion', c: LAYER2, w: 400 },
  { x: 598, y: 230, t: 'Hypolimnion', c: LAYER2, w: 400 },

  // Atexcac
  { x: 256, y: 300, t: 'Atexcac', c: '#C00000', s: 15 },
  { x: 72, y: 329, t: O2, c: C.o2 },
  { x: 118, y: 329, t: 'T (°C)', c: '#000' },
  { x: 208, y: 331, t: 'Turbidity (FTU)', c: C.turbText },
  { x: 323, y: 329, t: 'pH', c: C.ph },
  { x: 445, y: 328, t: 'Phycocyanin', c: PHY1 },
  { x: 445, y: 339.5, t: 'relative concentrations', c: PHY1 },
  { x: 13, y: 444, t: 'Depth (m)', c: '#404040', s: 10, rot: true },
  { x: 83, y: 556, t: 'ORP (mV)', c: C.orpText },
  { x: 210, y: 551, t: 'Average normalized', c: '#222', s: 9 },
  { x: 210, y: 562, t: 'dissolved Mn', c: '#222', s: 9 },
  { x: 324, y: 556, t: 'Conductivity (mS/cm)', c: C.cond },
  { x: 443, y: 556, t: 'Chlorophyll a (µg/L)', c: C.chlText },
  { x: 67, y: 406, t: 'Epilimnion', c: LAYER3, w: 400 },
  { x: 81, y: 455, t: 'Metalimnion', c: LAYER3, w: 400 },
  { x: 90, y: 512, t: 'Hypolimnion', c: LAYER3, w: 400 },

  // Alchichica
  { x: 763, y: 303, t: 'Alchichica', c: '#4472C4', s: 15 },
  { x: 572, y: 328, t: O2, c: C.o2 },
  { x: 638, y: 328, t: 'T (°C)', c: '#000' },
  { x: 715, y: 328, t: 'Turbidity (FTU)', c: C.turbText },
  { x: 825, y: 328, t: 'pH', c: C.ph },
  { x: 945, y: 327, t: 'Phycocyanin', c: PHY1 },
  { x: 945, y: 338, t: 'relative concentrations', c: PHY1 },
  { x: 523, y: 457, t: 'Depth (m)', c: '#404040', s: 10, rot: true },
  { x: 597, y: 566, t: 'ORP (mV)', c: C.orpText },
  { x: 825, y: 567, t: 'Conductivity (mS/cm)', c: C.cond },
  { x: 951, y: 567, t: 'Chlorophyll a (µg/L)', c: C.chlText },
  { x: 570, y: 371, t: 'Epilimnion', c: LAYER4, w: 400 },
  { x: 597, y: 417, t: 'Metalimnion', c: LAYER4, w: 400 },
  { x: 577, y: 468, t: 'Hypolimnion', c: LAYER4, w: 400 },
];

export default function App() {
  return (
    <div style={{ position: 'absolute', left: 0, top: 0, width: 1006, height: 573, background: '#fff', fontFamily: FONT, overflow: 'hidden' }}>
      {SUBS.map((s, i) => (
        <SubPlot key={i} s={s} />
      ))}
      <svg width={1006} height={573} style={{ position: 'absolute', left: 0, top: 0, pointerEvents: 'none', fontFamily: FONT }}>
        {LABELS.map((l, i) => (
          <text
            key={i}
            x={l.x}
            y={l.y}
            fill={l.c}
            fontSize={l.s ?? 9.5}
            fontWeight={l.w ?? 700}
            textAnchor="middle"
            dominantBaseline="central"
            transform={l.rot ? `rotate(-90 ${l.x} ${l.y})` : undefined}
          >
            {l.t}
          </text>
        ))}
      </svg>
    </div>
  );
}
